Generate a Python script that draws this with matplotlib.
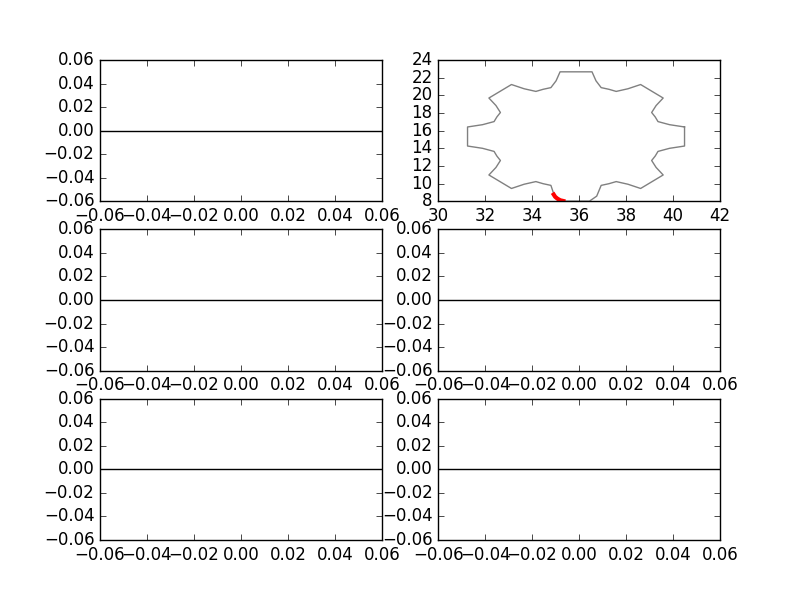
import matplotlib
matplotlib.use("Agg")
import matplotlib.pyplot as plt

# gear outline
gear_x = [40.49, 39.85, 39.36, 39.24, 39.09, 39.28, 39.58, 38.62, 38.08, 37.58,
          37.27, 36.94, 36.72, 36.55,
          35.19, 35.02, 34.80, 34.47, 34.16, 33.66, 33.12, 32.16, 32.46, 32.65,
          32.50, 32.38, 31.89, 31.25,
          31.25, 31.89, 32.38, 32.50, 32.65, 32.46, 32.16, 33.12, 33.66, 34.16,
          34.47, 34.80, 34.93, 35.08, 35.33,
          36.44, 36.75, 36.94, 37.27, 37.58, 38.08, 38.62, 39.58, 39.28, 39.09,
          39.24, 39.36, 39.85, 40.49, 40.49]
gear_y = [16.41, 16.67, 17.02, 17.55, 18.05, 18.84, 19.69, 21.22, 20.74, 20.44,
          20.68, 20.87, 21.64, 22.66,
          22.66, 21.64, 20.87, 20.68, 20.44, 20.74, 21.22, 19.69, 18.84, 18.05,
          17.55, 17.02, 16.67, 16.41,
          14.25, 13.99, 13.64, 13.11, 12.61, 11.82, 10.97, 9.44, 9.92, 10.22,
          9.98, 9.79, 8.75, 8.28, 8.00,
          8.00, 8.57, 9.79, 9.98, 10.22, 9.92, 9.44, 10.97, 11.82, 12.61,
          13.11, 13.64, 13.99, 14.25, 16.41]

# highlighted red piece of the outline
red_x = [34.92, 34.98, 35.08, 35.20, 35.33]
red_y = [8.75, 8.50, 8.28, 8.10, 8.02]

zero_level = 0.0
empty_lim = (-0.06, 0.06)
gear_xlim = (30, 42)
gear_ylim = (8, 24)

plt.style.use("classic")

fig, axes = plt.subplots(3, 2, figsize=(8, 6))
axes = axes.flatten()

for i, ax in enumerate(axes):
    if i == 1:
        ax.plot(gear_x, gear_y, color="gray", lw=1.0)
        ax.plot(red_x, red_y, color="red", lw=3)
        ax.set_xlim(*gear_xlim)
        ax.set_ylim(*gear_ylim)
    else:
        ax.axhline(zero_level, color="k", lw=1.0)
        ax.set_xlim(*empty_lim)
        ax.set_ylim(*empty_lim)

fig.savefig("out.png", dpi=100, facecolor="white")
